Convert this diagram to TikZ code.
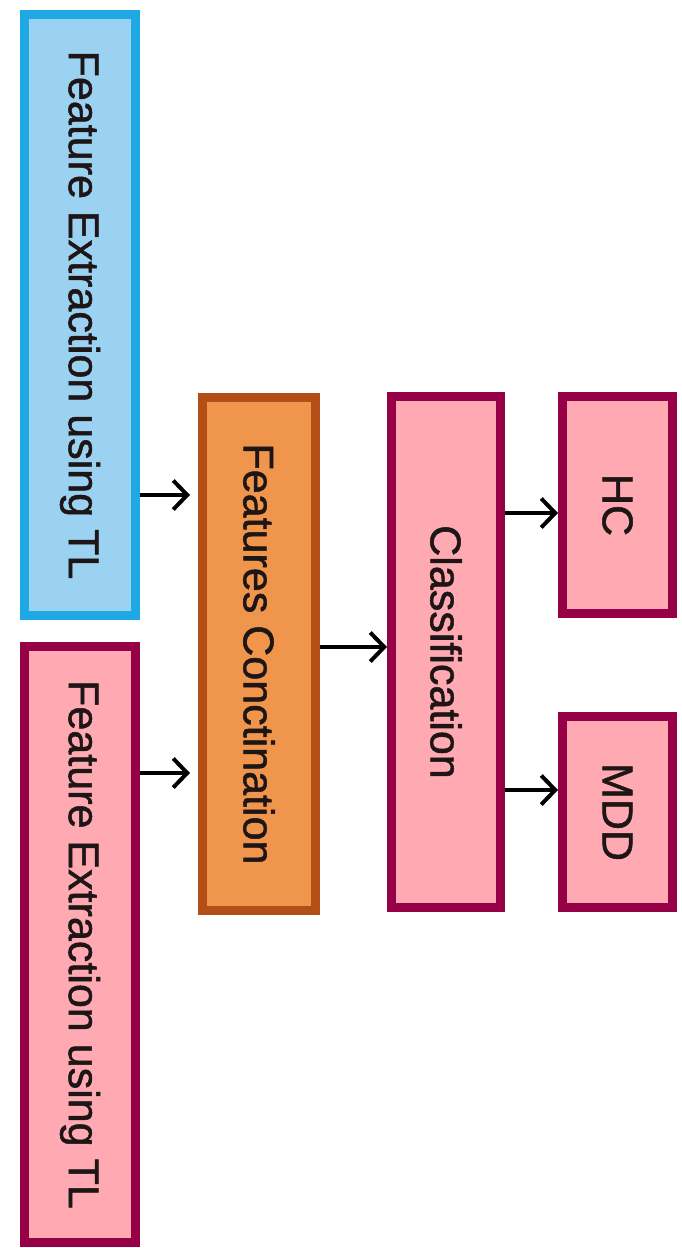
\documentclass[tikz,border=0pt]{standalone}
\usepackage{fontspec}
\setmainfont{Liberation Sans}
\newfontfamily\boxfont[FakeBold=1.2]{Liberation Sans}
\usetikzlibrary{arrows.meta, positioning}

\definecolor{tlblue}{RGB}{30,168,228}
\definecolor{tlbluefill}{RGB}{155,210,242}
\definecolor{rosefill}{RGB}{255,170,178}
\definecolor{roseline}{RGB}{150,0,70}
\definecolor{orangefill}{RGB}{240,150,76}
\definecolor{orangeline}{RGB}{178,78,22}
\definecolor{inktext}{RGB}{30,22,22}

\begin{document}
\begin{tikzpicture}[
    x=0.02cm, y=-0.02cm,
    box/.style = {rectangle, draw, line width=0.17cm, inner sep=0pt, text=inktext,
                  font=\boxfont\fontsize{24.5}{29}\selectfont},
    bluebox/.style = {box, draw=tlblue, fill=tlbluefill},
    rosebox/.style = {box, draw=roseline, fill=rosefill},
    orangebox/.style = {box, draw=orangeline, fill=orangefill},
    arrow/.style = {-{Straight Barb[length=0.28cm, width=0.58cm]}, line width=0.08cm}
]
\useasboundingbox (0,0) rectangle (681,1248);

% Define nodes
\node[bluebox, minimum width=2.23cm, minimum height=12.03cm] (tlone) at (80,315)
    {\rotatebox{-90}{Feature Extraction using TL}};
\node[rosebox, minimum width=2.23cm, minimum height=11.93cm] (tltwo) at (80,944.5)
    {\rotatebox{-90}{Feature Extraction using TL}};
\node[orangebox, minimum width=2.27cm, minimum height=10.27cm] (concat) at (259,654)
    {\rotatebox{-90}{Features Conctination}};
\node[rosebox, minimum width=2.19cm, minimum height=10.23cm] (classif) at (446,652)
    {\rotatebox{-90}{Classification}};
\node[rosebox, minimum width=2.21cm, minimum height=4.35cm] (hc) at (617.5,505)
    {\rotatebox{-90}{HC}};
\node[rosebox, minimum width=2.21cm, minimum height=3.83cm] (mdd) at (617.5,812)
    {\rotatebox{-90}{MDD}};

% Arrow levels
\coordinate (lvlone) at (0,495);
\coordinate (lvltwo) at (0,773);
\coordinate (lvlmid) at (0,647);
\coordinate (lvlhc) at (0,513);
\coordinate (lvlmdd) at (0,790);

% Draw arrows
\draw[arrow, shorten >=0.16cm] (tlone.east |- lvlone) -- (concat.west |- lvlone);
\draw[arrow, shorten >=0.16cm] (tltwo.east |- lvltwo) -- (concat.west |- lvltwo);
\draw[arrow] (concat.east |- lvlmid) -- (classif.west |- lvlmid);
\draw[arrow] (classif.east |- lvlhc) -- (hc.west |- lvlhc);
\draw[arrow] (classif.east |- lvlmdd) -- (mdd.west |- lvlmdd);

\end{tikzpicture}
\end{document}
